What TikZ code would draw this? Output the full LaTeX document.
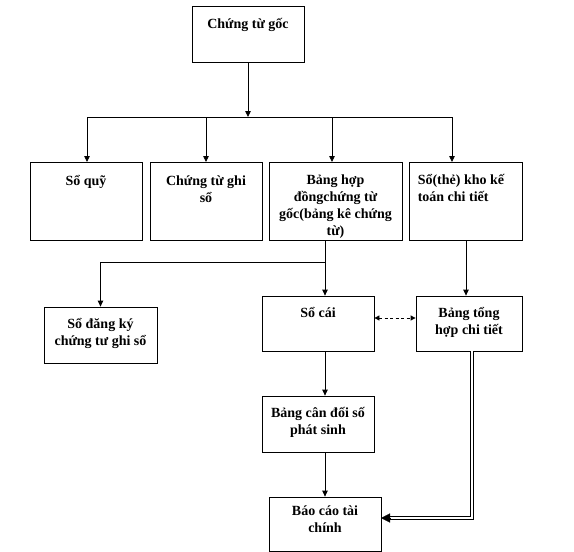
\documentclass[tikz,border=0pt]{standalone}
\usepackage{fontspec}
\setmainfont{Liberation Serif}
\usetikzlibrary{arrows.meta,calc}
\begin{document}
\begin{tikzpicture}[x=1pt,y=-1pt,
  box/.style={draw, line width=0.8pt, inner sep=0pt},
  txt/.style={inner sep=0pt, anchor=north, align=center, font=\fontsize{14}{17}\selectfont\bfseries},
  arr/.style={line width=0.8pt, -{Triangle[length=6pt,width=5.5pt]}},
  line/.style={line width=0.8pt},
  dsh/.style={line width=0.8pt, dash pattern=on 3pt off 2.5pt, {Triangle[length=5pt,width=5pt]}-{Triangle[length=5pt,width=5pt]}},
  dbl/.style={draw=black, double=white, double distance=1.8pt, line width=0.9pt},
  bigarr/.style={line width=0.1pt, -{Triangle[length=9pt,width=9pt]}}
]
\useasboundingbox (0,0) rectangle (574,552);
% boxes
\node[box, minimum width=112pt, minimum height=56pt] (top) at (248,34) {};
\node[box, minimum width=112pt, minimum height=78pt] (b1) at (86,201) {};
\node[box, minimum width=112pt, minimum height=78pt] (b2) at (206,201) {};
\node[box, minimum width=133pt, minimum height=78pt] (b3) at (335.5,201) {};
\node[box, minimum width=113pt, minimum height=78pt] (b4) at (465.5,201) {};
\node[box, minimum width=113pt, minimum height=56pt] (sodk) at (100.5,335) {};
\node[box, minimum width=112pt, minimum height=55pt] (socai) at (318,323.5) {};
\node[box, minimum width=106pt, minimum height=55pt] (bth) at (469,323.5) {};
\node[box, minimum width=112pt, minimum height=56pt] (bcd) at (318,424) {};
\node[box, minimum width=112pt, minimum height=54pt] (bc) at (325,524) {};
% texts
\node[txt] (ttop) at ($(top.north)+(0,9)$) {\rule{0pt}{14pt}Chứng từ gốc};
\node[txt] (tb1) at ($(b1.north)+(0,10)$) {\rule{0pt}{14pt}Sổ quỹ};
\node[txt] (tb2) at ($(b2.north)+(0,10)$) {\rule{0pt}{14pt}Chứng từ ghi\\sổ};
\node[txt] (tb3) at ($(b3.north)+(0,9)$) {\rule{0pt}{14pt}Bảng hợp\\đồngchứng từ\\gốc(bảng kê chứng\\từ)};
\node[txt, anchor=north west, align=left] (tb4) at ($(b4.north west)+(9,9)$) {\rule{0pt}{14pt}Sổ(thẻ) kho kế\\toán chi tiết};
\node[txt] (tsodk) at ($(sodk.north)+(0,8)$) {\rule{0pt}{14pt}Sổ đăng ký\\chứng tư ghi sổ};
\node[txt] (tsocai) at ($(socai.north)+(0,8)$) {\rule{0pt}{14pt}Sổ cái};
\node[txt] (tbth) at ($(bth.north)+(0,8)$) {\rule{0pt}{14pt}Bảng tổng\\hợp chi tiết};
\node[txt] (tbcd) at ($(bcd.north)+(0,8)$) {\rule{0pt}{14pt}Bảng cân đối số\\phát sinh};
\node[txt] (tbc) at ($(bc.north)+(0,5)$) {\rule{0pt}{14pt}Báo cáo tài\\chính};
% connector points
\coordinate (bus) at (248,117);
\coordinate (p1) at (87,162);
\coordinate (p2) at (206,162);
\coordinate (p3) at (332,162);
\coordinate (p4) at (452,162);
\coordinate (s3) at (325,240);
\coordinate (br) at (325,262);
\coordinate (s4) at (466,240);
\coordinate (d) at (0,318);
\coordinate (s5) at (472,351);
\coordinate (e5) at (381,518);
% connectors
\draw[arr] (top.south) -- (bus);
\draw[line] (bus -| p1) -- (bus -| p4);
\draw[arr] (bus -| p1) -- (p1);
\draw[arr] (bus -| p2) -- (p2);
\draw[arr] (bus -| p3) -- (p3);
\draw[arr] (bus -| p4) -- (p4);
\draw[arr] (s3) -- (s3 |- socai.north);
\draw[arr] (br) -| (sodk.north);
\draw[arr] (s4) -- (s4 |- bth.north);
\draw[arr] (socai.south -| s3) -- (bcd.north -| s3);
\draw[arr] (bcd.south -| s3) -- (bc.north);
\draw[dsh] (socai.east |- d) -- (bth.west |- d);
\draw[dbl, shorten >=8pt] (s5) |- (e5);
\draw[bigarr] ($(e5)+(9,0)$) -- (e5);
\end{tikzpicture}
\end{document}
